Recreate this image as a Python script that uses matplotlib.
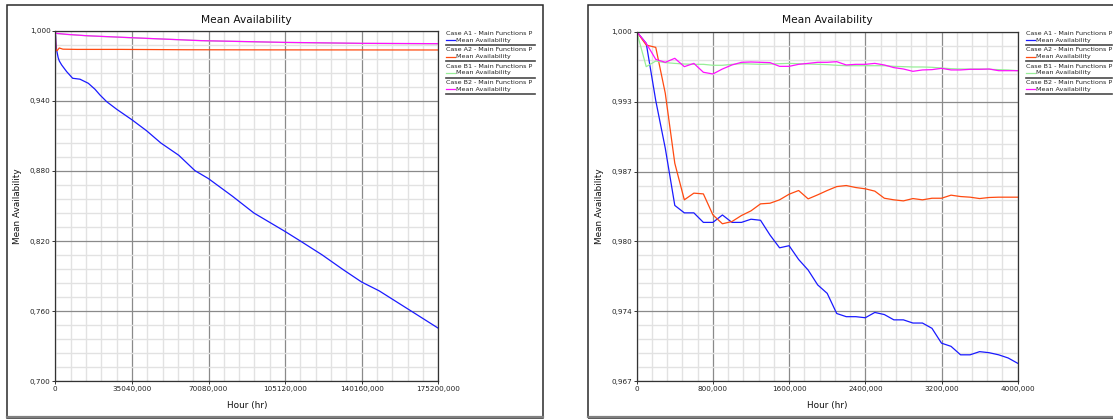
import numpy as np
import matplotlib
matplotlib.use("Agg")
from matplotlib import pyplot as plt
from matplotlib.ticker import FixedLocator, AutoMinorLocator, FuncFormatter
from matplotlib.lines import Line2D
from matplotlib.patches import Rectangle

# ---- left chart: long horizon (hours) ----
left_a1_x = [0, 300, 610, 1300, 1830, 2900, 5185, 7930, 11285, 15100, 18150, 20435,
             23485, 28060, 35040, 41750, 48290, 56480, 63850, 70080, 81000, 90850,
             105120, 112130, 121960, 131780, 140160, 148150, 162880, 175200]
left_a1_y = [1.0, 0.990, 0.9835, 0.977, 0.9741, 0.9707, 0.965, 0.9593, 0.9585, 0.955,
             0.9499, 0.945, 0.9393, 0.9328, 0.9238, 0.9144, 0.9039, 0.8934, 0.8803,
             0.8734, 0.8584, 0.844, 0.8282, 0.820, 0.8083, 0.7954, 0.7849, 0.7774,
             0.760, 0.7454]
left_a2_x = [0, 300, 800, 1800, 3500, 10000, 30000, 60000, 100000, 175200]
left_a2_y = [1.0, 0.984, 0.9828, 0.9852, 0.9842, 0.9840, 0.9840, 0.9837, 0.9836, 0.9835]
left_b1_x = [0, 200, 5000, 15000, 35040, 70080, 105120, 140160, 175200]
left_b1_y = [1.0, 0.9976, 0.9968, 0.9956, 0.9939, 0.9913, 0.9899, 0.9891, 0.9888]
left_b2_x = [0, 200, 5185, 14335, 35040, 66200, 105120, 140160, 175200]
left_b2_y = [1.0, 0.9978, 0.9969, 0.9957, 0.9940, 0.9915, 0.9900, 0.9892, 0.9889]

# ---- right chart: first 4000 hours, sampled every 100 hr ----
right_x = list(range(0, 4001, 100))
right_a1 = [1.0, 0.9989, 0.9935, 0.9890, 0.9836, 0.9829, 0.9829, 0.9820, 0.9820, 0.9827,
            0.9820, 0.9820, 0.9823, 0.9822, 0.9808, 0.9796, 0.9798, 0.9785, 0.9775,
            0.9761, 0.9753, 0.9734, 0.9731, 0.9731, 0.9730, 0.9735, 0.9733, 0.9728,
            0.9728, 0.9725, 0.9725, 0.9720, 0.9706, 0.9703, 0.9695, 0.9695, 0.9698,
            0.9697, 0.9695, 0.9692, 0.9687]
right_a2 = [1.0, 0.99874, 0.99852, 0.99419, 0.98758, 0.98413, 0.98476, 0.98469, 0.98271,
            0.98187, 0.98208, 0.98265, 0.98309, 0.98375, 0.98381, 0.98413, 0.98466,
            0.98501, 0.98422, 0.98460, 0.98501, 0.98538, 0.98548, 0.98529, 0.98517,
            0.98495, 0.98428, 0.98413, 0.98403, 0.98425, 0.98413, 0.98428, 0.98428,
            0.98457, 0.98444, 0.98438, 0.98425, 0.98435, 0.98438, 0.98438, 0.98438]
right_b1 = [1.0, 0.99670, 0.99723, 0.99708, 0.99701, 0.99695, 0.99692, 0.99692, 0.99683,
            0.99683, 0.99692, 0.99698, 0.99695, 0.99692, 0.99695, 0.99698, 0.99701,
            0.99698, 0.99695, 0.99692, 0.99689, 0.99683, 0.99679, 0.99679, 0.99679,
            0.99679, 0.99679, 0.99673, 0.99670, 0.99667, 0.99667, 0.99664, 0.99657,
            0.99651, 0.99648, 0.99648, 0.99648, 0.99645, 0.99642, 0.99639, 0.99632]
right_b2 = [1.0, 0.99890, 0.99739, 0.99711, 0.99749, 0.99670, 0.99701, 0.99617, 0.99601,
            0.99648, 0.99686, 0.99711, 0.99714, 0.99711, 0.99708, 0.99673, 0.99673,
            0.99692, 0.99701, 0.99711, 0.99711, 0.99717, 0.99686, 0.99692, 0.99692,
            0.99701, 0.99686, 0.99661, 0.99648, 0.99626, 0.99639, 0.99642, 0.99654,
            0.99639, 0.99639, 0.99645, 0.99645, 0.99648, 0.99632, 0.99632, 0.99632]

names = ["Case A1 - Main Functions P", "Case A2 - Main Functions P",
         "Case B1 - Main Functions P", "Case B2 - Main Functions P"]
colors = ["#1a1aff", "#ff4a10", "#98ee98", "#ff10ff"]

left_xticks = [0, 35040, 70080, 105120, 140160, 175200]
left_yticks = [0.700, 0.760, 0.820, 0.880, 0.940, 1.000]
right_xticks = [0, 800, 1600, 2400, 3200, 4000]
right_yticks = list(np.linspace(0.967, 1.0, 6))

W, H = 1113, 419
fig = plt.figure(figsize=(W / 100, H / 100), dpi=100)
fig.patch.set_facecolor("white")


def fx(px):
    return px / W


def fy(py):
    return 1 - py / H


def fmt(v, p):
    if abs(v) < 1e-12:
        return "0"
    return ("%.3f" % v).replace(".", ",")


def frame(x0, x1):
    fig.patches.append(Rectangle((fx(x0), fy(417.5)), fx(x1 - x0), (417.5 - 5.5) / H,
                                 transform=fig.transFigure, fill=False,
                                 ec="#2a2a2a", lw=1.1, zorder=0))
    fig.add_artist(Line2D([fx(x0), fx(x1)], [fy(417.2), fy(417.2)],
                          transform=fig.transFigure, color="#808080", lw=1.6))


def panel(rect, series, xticks, yticks, xlim, ylim, title_x, ylab_x, leg_x0, leg_x1):
    ax = fig.add_axes(rect)
    for (xs, ys), c in zip(series, colors):
        ax.plot(xs, ys, color=c, lw=0.9, solid_joinstyle="round")
    # magenta drawn over green as in the original
    ax.set_xlim(*xlim)
    ax.set_ylim(*ylim)
    ax.xaxis.set_major_locator(FixedLocator(xticks))
    ax.yaxis.set_major_locator(FixedLocator(yticks))
    ax.xaxis.set_minor_locator(AutoMinorLocator(5))
    ax.yaxis.set_minor_locator(AutoMinorLocator(5))
    ax.xaxis.set_major_formatter(FuncFormatter(fmt))
    ax.yaxis.set_major_formatter(FuncFormatter(fmt))
    ax.grid(which="minor", color="#e2e2e2", lw=1.0)
    ax.grid(which="major", color="#8a8a8a", lw=0.9)
    ax.set_axisbelow(True)
    ax.tick_params(which="major", direction="out", length=2.3, width=0.7,
                   color="#333333", labelsize=5.2, pad=1.2, labelcolor="#222222")
    ax.tick_params(which="minor", length=0)
    for s in ax.spines.values():
        s.set_color("#333333")
        s.set_linewidth(0.9)
    fig.text(fx(title_x), fy(20), "Mean Availability", ha="center", va="center",
             fontsize=7.7, color="#111111")
    fig.text(fx(title_x), fy(405), "Hour (hr)", ha="center", va="center",
             fontsize=6.4, color="#111111")
    fig.text(fx(ylab_x), fy(206), "Mean Availability", ha="center", va="center",
             rotation=90, fontsize=6.4, color="#111111")
    # legend block drawn by hand
    for i, (n, c) in enumerate(zip(names, colors)):
        y0 = 33.5 + i * 16.3
        fig.text(fx(leg_x0), fy(y0), n, ha="left", va="center", fontsize=4.6,
                 color="#222222")
        fig.add_artist(Line2D([fx(leg_x0), fx(leg_x0 + 9)], [fy(y0 + 6.8), fy(y0 + 6.8)],
                              transform=fig.transFigure, color=c, lw=0.9))
        fig.text(fx(leg_x0 + 10), fy(y0 + 6.6), "Mean Availability", ha="left",
                 va="center", fontsize=4.6, color="#222222")
        fig.add_artist(Line2D([fx(leg_x0), fx(leg_x1)], [fy(y0 + 11.6), fy(y0 + 11.6)],
                              transform=fig.transFigure, color="#4a4a4a", lw=1.2))
    return ax


frame(7, 542.7)
frame(588.3, 1125)

left_series = [(left_a1_x, left_a1_y), (left_a2_x, left_a2_y),
               (left_b1_x, left_b1_y), (left_b2_x, left_b2_y)]
right_series = [(right_x, right_a1), (right_x, right_a2),
                (right_x, right_b1), (right_x, right_b2)]

panel([fx(55.3), fy(381.3), 383 / W, 350.6 / H], left_series, left_xticks, left_yticks,
      (0, 175200), (0.700, 1.000), 246.8, 18, 446, 535)
panel([fx(636.7), fy(381.3), 381 / W, 349.6 / H], right_series, right_xticks, right_yticks,
      (0, 4000), (0.967, 1.000), 827, 600, 1026, 1112)

fig.savefig("out.png", dpi=100)
